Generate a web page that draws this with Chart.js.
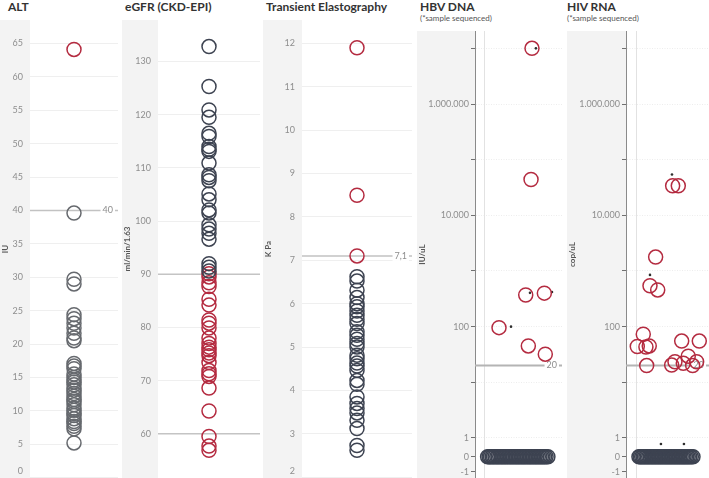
<!DOCTYPE html>
<html><head><meta charset="utf-8">
<script src="https://cdn.jsdelivr.net/npm/chart.js@4.4.1/dist/chart.umd.min.js"></script>
<style>
html,body{margin:0;padding:0;background:#fff;width:709px;height:478px;overflow:hidden;font-family:Lato,sans-serif}
.t{position:absolute;font-weight:bold;font-size:12px;line-height:12px;color:#333;white-space:nowrap}
.s{position:absolute;font-size:8px;line-height:8px;color:#555;white-space:nowrap}
canvas{position:absolute}
</style></head><body>
<div class="t" style="left:8px;top:1px">ALT</div>
<div class="t" style="left:125px;top:1px">eGFR (CKD-EPI)</div>
<div class="t" style="left:266px;top:1px">Transient Elastography</div>
<div class="t" style="left:420px;top:1px">HBV DNA</div>
<div class="s" style="left:420px;top:14px">(*sample sequenced)</div>
<div class="t" style="left:567px;top:1px">HIV RNA</div>
<div class="s" style="left:567px;top:14px">(*sample sequenced)</div>
<canvas id="c1" width="120" height="458" style="left:0;top:20px"></canvas>
<canvas id="c2" width="140" height="458" style="left:122px;top:20px"></canvas>
<canvas id="c3" width="150" height="458" style="left:263px;top:20px"></canvas>
<canvas id="c4" width="146" height="447" style="left:417px;top:31px"></canvas>
<canvas id="c5" width="142" height="447" style="left:567px;top:31px"></canvas>
<script>
// ---------------- DATA ----------------
// ALT (IU)
const altNormal = [39.6, 29.7, 29.0, 24.4, 23.8, 23.1, 22.4, 21.6, 20.9, 20.5,
  17.1, 16.7, 16.3, 15.5, 15.0, 14.6, 14.3, 13.9, 13.4, 13.1, 12.6, 12.2, 11.7, 11.4,
  10.9, 10.4, 10.1, 9.6, 9.3, 8.8, 8.4, 8.1, 7.7, 7.3, 5.2];
const altHigh = [64.1];
const altTicks = [0, 5, 10, 15, 20, 25, 30, 35, 40, 45, 50, 55, 60, 65];
const altRefs = [40];

// eGFR (ml/min/1.63)
const egfrNormal = [132.8, 125.3, 120.9, 119.5, 116.5, 115.9, 114.0, 113.5, 113.1, 110.9,
  108.7, 108.2, 107.6, 105.1, 104.0, 102.1, 101.5, 99.3, 98.5, 97.7, 96.6, 92.0, 91.3, 90.6];
const egfrLow = [90.1, 89.5, 88.4, 87.7, 85.3, 84.2, 81.4, 80.8, 79.9, 78.0, 77.0, 76.3,
  75.8, 75.2, 74.7, 73.4, 71.9, 71.3, 70.8, 68.6, 64.3, 59.5, 57.7, 56.9];
const egfrTicks = [60, 70, 80, 90, 100, 110, 120, 130];
const egfrRefs = [90, 60];

// Transient elastography (K Pa)
const teNormal = [6.62, 6.52, 6.31, 6.14, 6.0, 5.93, 5.83, 5.73, 5.64, 5.54, 5.35, 5.27,
  5.18, 5.08, 5.0, 4.81, 4.73, 4.63, 4.56, 4.46, 4.23, 4.14, 3.85, 3.70, 3.58, 3.48,
  3.31, 3.12, 2.73, 2.62];
const teHigh = [11.9, 8.5, 7.1];
const teTicks = [2, 3, 4, 5, 6, 7, 8, 9, 10, 11, 12];
const teRefs = [7.1];

// HBV DNA (IU/uL)
const hbvDetected = [10000000, 44000, 370, 400, 96, 45, 32];
const hbvDetectedJitter = [0.555, 0.544, 0.483, 0.697, 0.176, 0.513, 0.708];
const hbvZeroJitter = [0.045, 0.062, 0.078, 0.097, 0.113, 0.131, 0.15, 0.166, 0.184, 0.203,
  0.22, 0.238, 0.255, 0.273, 0.291, 0.309, 0.326, 0.344, 0.362, 0.38, 0.397, 0.415, 0.433,
  0.451, 0.468, 0.486, 0.504, 0.522, 0.539, 0.557, 0.575, 0.593, 0.61, 0.628, 0.646,
  0.664, 0.681, 0.699, 0.717, 0.738];
const hbvSequenced = [10000000, 405, 420, 100];
const hbvSequencedJitter = [0.6, 0.532, 0.785, 0.314];
const hbvRefs = [20];

// HIV RNA (cop/uL)
const hivDetected = [34000, 34000, 1780, 543, 457, 73, 44, 43, 45, 20, 55, 55, 29.5, 23.4,
  20.4, 22, 23.4, 20];
const hivDetectedJitter = [0.442, 0.51, 0.237, 0.169, 0.262, 0.088, 0.016, 0.12, 0.16,
  0.129, 0.551, 0.763, 0.63, 0.47, 0.43, 0.57, 0.731, 0.683];
const hivZeroJitter = [0.036, 0.052, 0.069, 0.086, 0.103, 0.12, 0.137, 0.154, 0.171, 0.188,
  0.205, 0.222, 0.239, 0.256, 0.273, 0.29, 0.307, 0.324, 0.341, 0.358, 0.375, 0.392, 0.409,
  0.426, 0.443, 0.46, 0.477, 0.494, 0.511, 0.528, 0.545, 0.562, 0.579, 0.596, 0.613, 0.63,
  0.648, 0.667, 0.687];
const hivSequenced = [54000, 850, 0.68, 0.68];
const hivSequencedJitter = [0.434, 0.169, 0.301, 0.578];
const hivRefs = [20];

// log-axis ticks (symmetric log)
const logTickValues = [10000000, 1000000, 100000, 10000, 1000, 100, 10, 1, 0, -1];
const logTickLabels = ['', '1.000.000', '', '10.000', '', '100', '', '1', '0', '-1'];

// ---------------- STYLE ----------------
const FONT = 'Lato';
const TICK_COLOR = '#8e8e8e';
const GREY = '#66696e';
const DARK = '#3d4351';
const RED = '#b42b40';

// symmetric-log scale: log10 above 1, short linear segments below 1
const K_POS = 0.336, K_NEG = 0.27;
class SymLogScale extends Chart.LinearScale {
  tf(v) {
    if (v >= 1) return Math.log10(v);
    if (v >= 0) return (v - 1) * K_POS;
    return -K_POS + v * K_NEG;
  }
  inv(t) {
    if (t >= 0) return Math.pow(10, t);
    if (t >= -K_POS) return t / K_POS + 1;
    return (t + K_POS) / K_NEG;
  }
  configure() {
    super.configure();
    this._tmin = this.tf(this.min);
    this._tmax = this.tf(this.max);
  }
  getPixelForValue(v) {
    if (v === null || v === undefined || isNaN(v)) return NaN;
    return this.getPixelForDecimal((this.tf(v) - this._tmin) / (this._tmax - this._tmin));
  }
  getValueForPixel(p) {
    return this.inv(this._tmin + this.getDecimalForPixel(p) * (this._tmax - this._tmin));
  }
}
SymLogScale.id = 'symlog';
SymLogScale.defaults = {};
Chart.register(SymLogScale);

function circles(points, color) {
  return {data: points, borderColor: color, backgroundColor: 'rgba(0,0,0,0)',
    pointBackgroundColor: 'rgba(0,0,0,0)', pointBorderColor: color,
    pointRadius: 7, pointHoverRadius: 7, pointBorderWidth: 1.5, pointHoverBorderWidth: 1.5,
    showLine: false, clip: false};
}
function dots(points) {
  return {data: points, pointRadius: 1.3, pointHoverRadius: 1.3, pointBackgroundColor: '#2e2e2e',
    pointBorderColor: '#2e2e2e', pointBorderWidth: 0, showLine: false, clip: false};
}
const atCenter = arr => arr.map(v => ({x: 0, y: v}));
const jittered = (vals, jit) => vals.map((v, i) => ({x: jit[i], y: v}));

function panelPlugin(spec) {
  return {
    id: 'panel_' + spec.id,
    beforeDraw(chart) {
      const {ctx, chartArea} = chart;
      ctx.save();
      ctx.fillStyle = '#f3f3f3';
      ctx.fillRect(0, 0, chartArea.left, chart.height);
      ctx.restore();
    },
    beforeDatasetsDraw(chart) {
      const {ctx, chartArea, scales} = chart;
      ctx.save();
      if (spec.zeroLine) {
        const x = Math.round(scales.x.getPixelForValue(0)) + 0.5;
        ctx.strokeStyle = '#e2e2e2'; ctx.lineWidth = 1;
        ctx.beginPath(); ctx.moveTo(x, chartArea.top); ctx.lineTo(x, chartArea.bottom); ctx.stroke();
      }
      (spec.refs || []).forEach(r => {
        const y = scales.y.getPixelForValue(r.value);
        ctx.strokeStyle = r.color; ctx.lineWidth = r.width;
        ctx.beginPath(); ctx.moveTo(chartArea.left, y); ctx.lineTo(chartArea.right, y); ctx.stroke();
        if (r.label) {
          ctx.font = '9px ' + FONT;
          const w = ctx.measureText(r.label).width;
          const xr = chartArea.right - 5;
          ctx.fillStyle = '#fff';
          ctx.fillRect(xr - w - 2, y - 5, w + 4, 10);
          ctx.fillStyle = TICK_COLOR; ctx.textAlign = 'right'; ctx.textBaseline = 'middle';
          ctx.fillText(r.label, xr, y);
        }
      });
      ctx.restore();
    },
    afterDraw(chart) {
      if (spec.bottomLabel == null) return;
      const {ctx, chartArea} = chart;
      ctx.save();
      ctx.font = '9px ' + FONT;
      ctx.fillStyle = TICK_COLOR; ctx.textAlign = 'right'; ctx.textBaseline = 'middle';
      ctx.fillText(spec.bottomLabel, chartArea.left - 7, chartArea.bottom - 7);
      ctx.restore();
    }
  };
}

function makePanel(spec) {
  const isLog = spec.log;
  const y = {
    type: isLog ? 'symlog' : 'linear',
    position: 'left',
    min: spec.yMin, max: spec.yMax, bounds: 'data',
    afterBuildTicks: s => { s.ticks = spec.ticks.map(v => ({value: v})); },
    afterFit: s => { s.width = spec.axisW; s.paddingTop = 0; s.paddingBottom = 0; },
    grid: isLog ? {
      color: c => (c.tick && c.tick.value < 1) ? 'rgba(0,0,0,0)' : '#ededed',
      tickColor: '#707070', tickLength: 4, drawTicks: true, lineWidth: 1
    } : {color: '#efefef', lineWidth: 1, drawTicks: false},
    border: isLog ? {display: true, color: '#8a8a8a', width: 1, dash: [1, 1.5]} : {display: false},
    ticks: {
      autoSkip: false, padding: isLog ? 2 : 7, color: TICK_COLOR,
      font: {family: FONT, size: 9},
      callback: isLog ? ((v, i) => logTickLabels[i]) : (v => v === spec.hideTick ? '' : String(v))
    },
    title: {display: true, text: spec.axisTitle, color: '#555',
      font: {family: FONT, size: 8, weight: 'bold'}, padding: {top: 1, bottom: 0}}
  };
  new Chart(document.getElementById(spec.id), {
    type: 'scatter',
    data: {datasets: spec.datasets},
    options: {
      responsive: false, devicePixelRatio: 1, animation: false, events: [],
      layout: {padding: {left: 0, right: spec.padRight, top: 0, bottom: 0}, autoPadding: false},
      plugins: {legend: {display: false}, tooltip: {enabled: false}},
      scales: {
        x: {type: 'linear', display: false, min: spec.xMin, max: spec.xMax},
        y: y
      }
    },
    plugins: [panelPlugin(spec)]
  });
}

makePanel({id: 'c1', axisW: 30, padRight: 2, yMin: -0.05, yMax: 68.5, ticks: altTicks,
  hideTick: 0, bottomLabel: '0', xMin: -1, xMax: 1, axisTitle: 'IU',
  refs: altRefs.map(v => ({value: v, label: String(v), color: '#c2c2c2', width: 1.5})),
  datasets: [circles(atCenter(altNormal), GREY), circles(atCenter(altHigh), RED)]});

makePanel({id: 'c2', axisW: 36, padRight: 2, yMin: 51.7, yMax: 137.8, ticks: egfrTicks,
  xMin: -1, xMax: 1, axisTitle: 'ml/min/1.63',
  refs: egfrRefs.map(v => ({value: v, color: '#c4c4c4', width: 1.5})),
  datasets: [circles(atCenter(egfrNormal), DARK), circles(atCenter(egfrLow), RED)]});

makePanel({id: 'c3', axisW: 39, padRight: 1, yMin: 1.98, yMax: 12.54, ticks: teTicks,
  hideTick: 2, bottomLabel: '2', xMin: -1, xMax: 1, axisTitle: 'K Pa',
  refs: teRefs.map(v => ({value: v, label: String(v).replace('.', ','), color: '#c2c2c2', width: 1.5})),
  datasets: [circles(atCenter(teNormal), DARK), circles(atCenter(teHigh), RED)]});

makePanel({id: 'c4', log: true, axisW: 58, padRight: 1, yMin: -1.42, yMax: 20500000,
  ticks: logTickValues, xMin: -0.1, xMax: 0.9, zeroLine: true, axisTitle: 'IU/uL',
  refs: hbvRefs.map(v => ({value: v, label: String(v), color: '#b4b4b4', width: 2})),
  datasets: [
    circles(hbvZeroJitter.map(x => ({x: x, y: 0})), DARK),
    circles(jittered(hbvDetected, hbvDetectedJitter), RED),
    dots(jittered(hbvSequenced, hbvSequencedJitter))
  ]});

makePanel({id: 'c5', log: true, axisW: 59, padRight: 0, yMin: -1.42, yMax: 20500000,
  ticks: logTickValues, xMin: -0.12, xMax: 0.88, zeroLine: true, axisTitle: 'cop/uL',
  refs: hivRefs.map(v => ({value: v, label: String(v), color: '#b4b4b4', width: 2})),
  datasets: [
    circles(hivZeroJitter.map(x => ({x: x, y: 0})), DARK),
    circles(jittered(hivDetected, hivDetectedJitter), RED),
    dots(jittered(hivSequenced, hivSequencedJitter))
  ]});
</script>
</body></html>
